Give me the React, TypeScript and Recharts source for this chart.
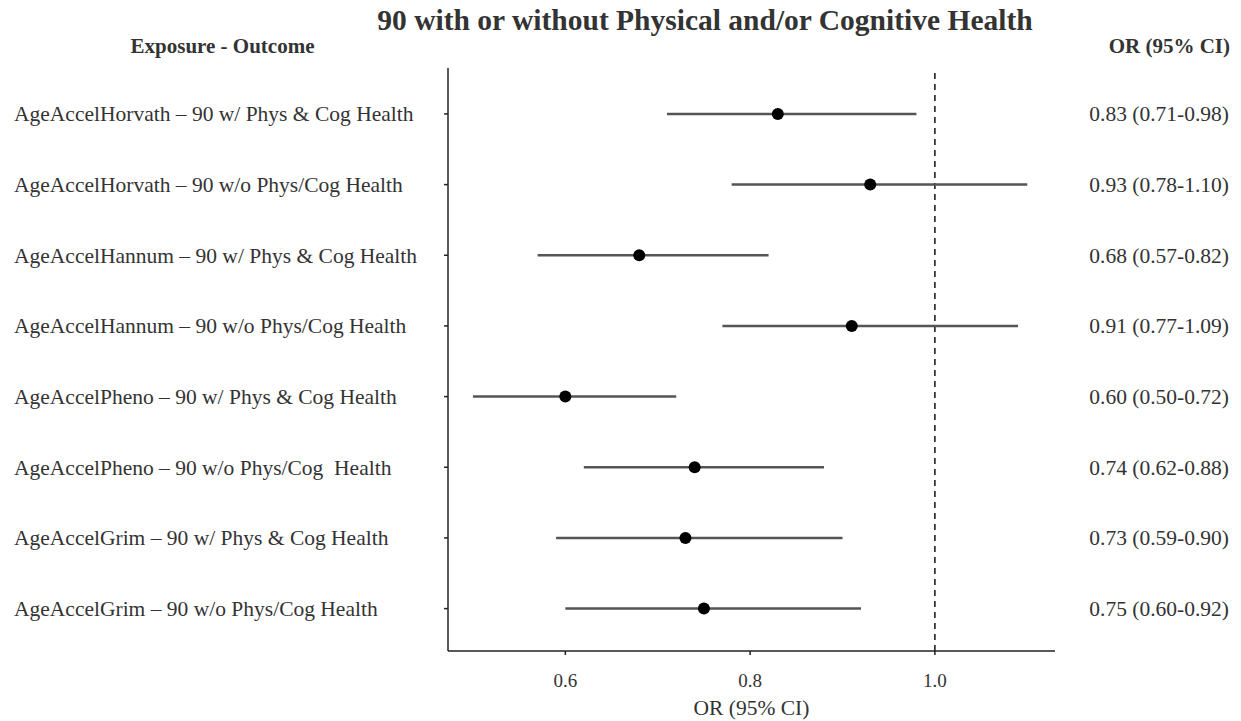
import React from "react";
import {
  ScatterChart,
  Scatter,
  XAxis,
  YAxis,
  ErrorBar,
  ReferenceLine,
  Label,
} from "recharts";

// Rows top to bottom
const exposures = [
  "AgeAccelHorvath – 90 w/ Phys & Cog Health",
  "AgeAccelHorvath – 90 w/o Phys/Cog Health",
  "AgeAccelHannum – 90 w/ Phys & Cog Health",
  "AgeAccelHannum – 90 w/o Phys/Cog Health",
  "AgeAccelPheno – 90 w/ Phys & Cog Health",
  "AgeAccelPheno – 90 w/o Phys/Cog  Health",
  "AgeAccelGrim – 90 w/ Phys & Cog Health",
  "AgeAccelGrim – 90 w/o Phys/Cog Health",
];
const oddsRatio = [0.83, 0.93, 0.68, 0.91, 0.6, 0.74, 0.73, 0.75];
const ciLow = [0.71, 0.78, 0.57, 0.77, 0.5, 0.62, 0.59, 0.6];
const ciHigh = [0.98, 1.1, 0.82, 1.09, 0.72, 0.88, 0.9, 0.92];
const xTicks = [0.6, 0.8, 1.0];

const data = exposures.map((name, i) => ({
  row: i + 1,
  name,
  or: oddsRatio[i],
  err: [oddsRatio[i] - ciLow[i], ciHigh[i] - oddsRatio[i]],
}));

const serif = '"Liberation Serif", "Times New Roman", serif';
const textColor = "#333";
const rowTicks = data.map((d) => d.row);

const fmt = (v: number) => v.toFixed(2);

function LeftTick(props: any) {
  const d = data[props.payload.value - 1];
  if (!d) return null;
  return (
    <text x={14} y={props.y} dy="0.35em" textAnchor="start" fill={textColor} fontFamily={serif} fontSize={21.5} style={{ whiteSpace: "pre" }}>
      {d.name}
    </text>
  );
}

function RightTick(props: any) {
  const i = props.payload.value - 1;
  if (i < 0 || i >= oddsRatio.length) return null;
  return (
    <text x={1229} y={props.y} dy="0.35em" textAnchor="end" fill={textColor} fontFamily={serif} fontSize={21.5}>
      {`${fmt(oddsRatio[i])} (${fmt(ciLow[i])}-${fmt(ciHigh[i])})`}
    </text>
  );
}

const header: React.CSSProperties = {
  position: "absolute",
  fontFamily: serif,
  fontWeight: "bold",
  color: textColor,
  whiteSpace: "nowrap",
  lineHeight: 1,
};

export default function App() {
  return (
    <div style={{ position: "absolute", left: 0, top: 0, width: 1241, height: 721, background: "#fff" }}>
      <div style={{ ...header, left: 0, width: 1410, top: 6, fontSize: 29.5, textAlign: "center" }}>
        90 with or without Physical and/or Cognitive Health
      </div>
      <div style={{ ...header, left: 0, width: 445, top: 36, fontSize: 21, textAlign: "center" }}>
        Exposure - Outcome
      </div>
      <div style={{ ...header, right: 11, top: 36, fontSize: 21 }}>OR (95% CI)</div>
      <ScatterChart width={1241} height={721} margin={{ top: 68, right: 0, bottom: 0, left: 0 }}>
        <XAxis
          type="number"
          dataKey="or"
          domain={[0.473, 1.13]}
          ticks={xTicks}
          allowDataOverflow
          tickFormatter={(v: number) => v.toFixed(1)}
          height={70}
          stroke="#222"
          strokeWidth={1.5}
          tickSize={4}
          tickMargin={19}
          tick={{ fill: textColor, fontFamily: serif, fontSize: 19 }}
        >
          <Label value="OR (95% CI)" position="insideBottom" offset={6} fill={textColor} fontFamily={serif} fontSize={21.5} />
        </XAxis>
        <YAxis
          yAxisId="left"
          type="number"
          dataKey="row"
          domain={[0.35, 8.6]}
          reversed
          ticks={rowTicks}
          allowDataOverflow
          width={448}
          stroke="#222"
          strokeWidth={1.5}
          tickSize={4}
          tick={<LeftTick />}
        />
        <YAxis
          yAxisId="right"
          orientation="right"
          type="number"
          domain={[0.35, 8.6]}
          reversed
          ticks={rowTicks}
          allowDataOverflow
          width={186}
          axisLine={false}
          tickLine={false}
          tick={<RightTick />}
        />
        <ReferenceLine yAxisId="left" x={1} stroke="#111" strokeWidth={1.5} strokeDasharray="6 5" />
        <Scatter yAxisId="left" data={data} fill="#000" isAnimationActive={false} shape={(p: any) => <circle cx={p.cx} cy={p.cy} r={6} fill="#000" />}>
          <ErrorBar dataKey="err" direction="x" width={0} stroke="#555" strokeWidth={2.5} />
        </Scatter>
      </ScatterChart>
    </div>
  );
}
